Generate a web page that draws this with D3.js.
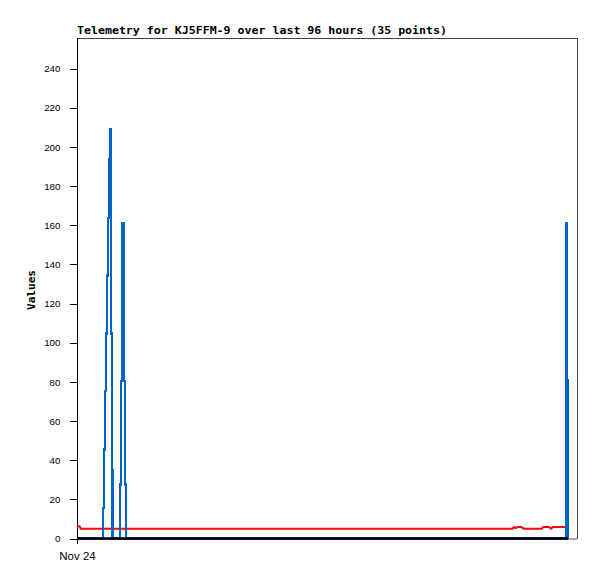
<!DOCTYPE html>
<html>
<head>
<meta charset="utf-8">
<script src="https://cdn.jsdelivr.net/npm/d3@7"></script>
<style>
html,body{margin:0;padding:0;background:#fff;}
svg{display:block;}
</style>
</head>
<body>
<svg id="chart" width="597" height="579"></svg>
<script>
// ---- data (hours since Nov 24 00:00, values) ----
const titleText = "Telemetry for KJ5FFM-9 over last 96 hours (35 points)";
const yLabel = "Values";
const xTickLabels = ["Nov 24"];
const xTickHours = [0];
const yTicks = [0,20,40,60,80,100,120,140,160,180,200,220,240];

const blueHours = [0.00, 4.86, 5.05, 5.28, 5.47, 5.66, 5.82, 6.01, 6.20, 6.39, 6.49, 6.62, 6.76, 6.91,
                   8.16, 8.35, 8.51, 8.68, 8.83, 8.99, 9.12, 9.27, 9.45,
                   93.75, 93.93, 94.06, 94.16, 94.31];
const blueValues = [0, 0, 15.7, 45.5, 75.2, 104.7, 134.3, 163.8, 193.6, 208.9, 174, 104.7, 34.7, 0,
                    0, 27.6, 80.3, 134, 160.9, 134, 80.3, 27.6, 0,
                    0, 80.7, 160.9, 80.7, 0];

const redHours = [0.00, 0.50, 0.70, 83.58, 83.90, 84.19, 84.67, 85.25, 85.82, 89.22, 89.53, 90.62, 91.01, 91.39, 94.46];
const redValues = [6.2, 6.2, 5.0, 5.0, 5.9, 5.4, 5.9, 5.9, 5.0, 5.0, 5.9, 5.9, 5.0, 5.9, 5.9];

const blackHours = [0.00, 94.31];
const blackValues = [0, 0];

// ---- layout ----
(function () {
const svg = d3.select("#chart");
const pL = 77, pR = 577, pT = 38, pB = 538.5;
const x = d3.scaleLinear().domain([0, 96]).range([pL, pR]);
const y = d3.scaleLinear().domain([0, 240]).range([pB, 68.6]);

// frame
svg.append("line").attr("x1", pL).attr("x2", pR).attr("y1", pT + 0.5).attr("y2", pT + 0.5)
  .attr("stroke", "#444").attr("stroke-width", 1);
svg.append("line").attr("x1", pR + 0.5).attr("x2", pR + 0.5).attr("y1", pT).attr("y2", 539)
  .attr("stroke", "#444").attr("stroke-width", 1);
svg.append("line").attr("x1", pL).attr("x2", pR).attr("y1", 539).attr("y2", 539)
  .attr("stroke", "#444").attr("stroke-width", 1);

// y axis
const yAxis = d3.axisLeft(y).tickValues(yTicks).tickSize(8).tickPadding(9).tickFormat(d3.format("d"));
const gy = svg.append("g").attr("transform", `translate(${pL + 0.5},0)`).call(yAxis);
gy.select(".domain").remove();
gy.selectAll(".tick line").attr("stroke", "#000").attr("shape-rendering", "crispEdges");
gy.selectAll(".tick text").attr("font-family", "'Liberation Sans', Arial, sans-serif")
  .attr("font-size", "9.8px").attr("fill", "#000");
svg.append("line").attr("x1", pL + 0.5).attr("x2", pL + 0.5).attr("y1", pT).attr("y2", 544)
  .attr("stroke", "#000").attr("stroke-width", 1);

// x axis label
const xAxis = d3.axisBottom(x).tickValues(xTickHours).tickSize(0).tickPadding(0)
  .tickFormat((d, i) => xTickLabels[i]);
const gx = svg.append("g").attr("transform", `translate(0,550)`).call(xAxis);
gx.select(".domain").remove();
gx.selectAll(".tick text").attr("font-family", "'Liberation Sans', Arial, sans-serif")
  .attr("font-size", "11.5px").attr("fill", "#000").attr("dy", "0.9em");

// series
const line = d3.line().x(d => x(d[0])).y(d => y(d[1]));
const stepLine = d3.line().curve(d3.curveStep).x(d => x(d[0])).y(d => y(d[1]));
svg.append("path").datum(d3.zip(redHours, redValues)).attr("d", line)
  .attr("fill", "none").attr("stroke", "#ff0000").attr("stroke-width", 2).attr("stroke-linejoin", "miter");
svg.append("path").datum(d3.zip(blueHours, blueValues)).attr("d", stepLine)
  .attr("fill", "none").attr("stroke", "#0066cc").attr("stroke-width", 2.2)
  .attr("stroke-linejoin", "miter").attr("shape-rendering", "crispEdges");
svg.append("path").datum(d3.zip(blackHours, blackValues)).attr("d", line)
  .attr("fill", "none").attr("stroke", "#000").attr("stroke-width", 2.6);

// title
svg.append("text").attr("x", 77).attr("y", 34).text(titleText)
  .attr("font-family", "'DejaVu Sans Mono', monospace").attr("font-weight", "bold")
  .attr("font-size", "11px").attr("textLength", 370).attr("lengthAdjust", "spacingAndGlyphs");

// y label
svg.append("text").attr("transform", "translate(35,290) rotate(-90)").attr("text-anchor", "middle")
  .text(yLabel).attr("font-family", "'DejaVu Sans Mono', monospace").attr("font-weight", "bold")
  .attr("font-size", "11px").attr("textLength", 40).attr("lengthAdjust", "spacingAndGlyphs");
})();
</script>
</body>
</html>
